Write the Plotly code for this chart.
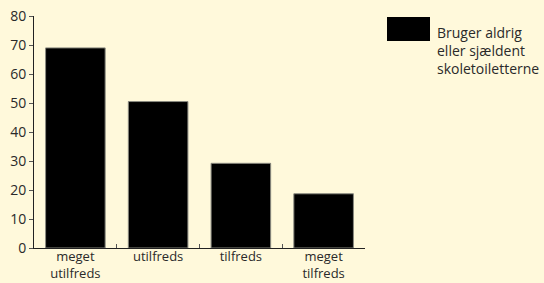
import plotly.graph_objects as go

categories = ["meget<br>utilfreds", "utilfreds", "tilfreds", "meget<br>tilfreds"]
values = [69, 50.5, 29.2, 18.7]
series_name = "Bruger aldrig<br>eller sjældent<br>skoletoiletterne"
y_ticks = [0, 10, 20, 30, 40, 50, 60, 70, 80]

bg = "#FFF9DB"
font_family = "'Open Sans', sans-serif"

fig = go.Figure()
fig.add_trace(go.Bar(
    x=categories, y=values, name=series_name,
    marker=dict(color="#000000", line=dict(color="#8a8a80", width=1)),
    showlegend=False,
))

fig.update_layout(
    width=544, height=283,
    margin=dict(l=34, r=179, t=16, b=35),
    paper_bgcolor=bg, plot_bgcolor=bg,
    font=dict(family=font_family, size=14, color="#2a2a2a"),
    bargap=0.28,
    xaxis=dict(
        showline=True, linecolor="#222", linewidth=1, automargin=False,
        ticks="inside", ticklen=4, tickcolor="#555", tickson="boundaries",
        showgrid=False, tickfont=dict(size=13), ticklabelstandoff=-4,
    ),
    yaxis=dict(
        range=[0, 80], tickvals=y_ticks, automargin=False,
        showline=True, linecolor="#222", linewidth=1,
        ticks="outside", ticklen=4, tickcolor="#555",
        showgrid=False, zeroline=False, tickfont=dict(size=14),
    ),
)

# legend drawn as a swatch + text
fig.add_shape(type="rect", xref="paper", yref="paper",
              x0=(387 - 34) / 331, x1=(430 - 34) / 331,
              y0=(248 - 41) / 232, y1=(248 - 17) / 232,
              fillcolor="#000000", line=dict(width=0))
fig.add_annotation(xref="paper", yref="paper",
                   x=(435 - 34) / 331, y=(248 - 21) / 232,
                   xanchor="left", yanchor="top", align="left",
                   text=series_name, showarrow=False,
                   font=dict(size=14, color="#2a2a2a"))

fig.write_html("out.html", config={"displayModeBar": False},
               post_script="document.body.style.margin='0';")
